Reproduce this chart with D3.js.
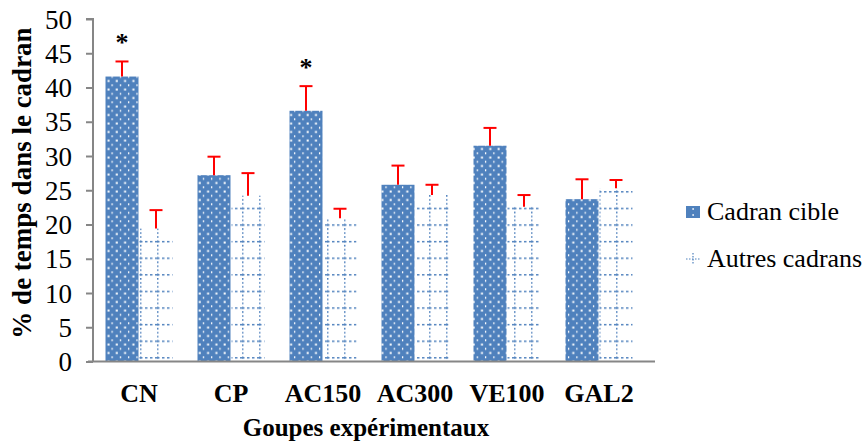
<!DOCTYPE html>
<html><head><meta charset="utf-8">
<script src="https://cdn.jsdelivr.net/npm/d3@7"></script>
<style>body{margin:0;background:#fff}svg{display:block}</style>
</head><body><svg id="c" width="866" height="445" font-family="Liberation Serif"></svg>
<script>
const categories = ["CN","CP","AC150","AC300","VE100","GAL2"];
const series = ["Cadran cible","Autres cadrans"];
const cible = [41.6, 27.2, 36.6, 25.8, 31.5, 23.7];
const cibleErr = [2.2, 2.7, 3.6, 2.8, 2.6, 2.9];
const autres = [19.4, 24.2, 20.9, 24.3, 22.6, 25.3];
const autresErr = [2.7, 3.3, 1.4, 1.5, 1.7, 1.2];
const stars = ["*","","*","","",""];
const yTicks = [0,5,10,15,20,25,30,35,40,45,50];

const FF = "Liberation Serif";
const svg = d3.select("#c");
const blue = "#4F81BD";
const defs = svg.append("defs");
const p1 = defs.append("pattern").attr("id","dots").attr("patternUnits","userSpaceOnUse")
  .attr("width",8.3).attr("height",8.5).attr("x",106).attr("y",2);
p1.append("rect").attr("width",8.3).attr("height",8.5).attr("fill",blue);
p1.append("rect").attr("x",1.5).attr("y",1.5).attr("width",2).attr("height",2).attr("fill","#fff");
p1.append("rect").attr("x",5.5).attr("y",5.8).attr("width",1.2).attr("height",2).attr("fill","#fff");
const p2 = defs.append("pattern").attr("id","grid").attr("patternUnits","userSpaceOnUse")
  .attr("width",17).attr("height",16.6).attr("x",4).attr("y",8.5);
p2.append("rect").attr("width",17).attr("height",16.6).attr("fill","#fff");
p2.append("line").attr("x1",0).attr("x2",17).attr("y1",0.75).attr("y2",0.75)
  .attr("stroke",blue).attr("stroke-width",1.5).attr("stroke-dasharray","2.5,2.5");
p2.append("line").attr("x1",0.75).attr("x2",0.75).attr("y1",0).attr("y2",16.6)
  .attr("stroke",blue).attr("stroke-width",1.5).attr("stroke-dasharray","1.5,2.5");

const x0 = 93, x1 = 645, yB = 361.5, yT = 19;
const x = d3.scaleBand().domain(categories).range([x0,x1]).paddingInner(0).paddingOuter(0);
const y = d3.scaleLinear().domain([0,50]).range([yB,yT]);
const barW = 33;
const data = categories.map((c,i)=>({c,i,v:[cible[i],autres[i]],e:[cibleErr[i],autresErr[i]],s:stars[i]}));

const g = svg.append("g");
data.forEach(d=>{
  const cx = x(d.c)+x.bandwidth()/2 - 0.5;
  [0,1].forEach(k=>{
    const bx = k===0 ? cx-barW : cx+1;
    g.append("rect").attr("x",bx).attr("y",y(d.v[k])).attr("width",barW)
      .attr("height",y(0)-y(d.v[k])).attr("fill",k===0?"url(#dots)":"url(#grid)");
    const mx = bx+barW/2, top = y(d.v[k]+d.e[k]);
    g.append("line").attr("x1",mx).attr("x2",mx).attr("y1",y(d.v[k])).attr("y2",top)
      .attr("stroke","#FF0000").attr("stroke-width",2);
    g.append("line").attr("x1",mx-6.5).attr("x2",mx+6.5).attr("y1",top).attr("y2",top)
      .attr("stroke","#FF0000").attr("stroke-width",2);
    if(k===0 && d.s){
      g.append("text").attr("x",mx).attr("y",top-10).attr("text-anchor","middle")
        .attr("font-family",FF).attr("font-size",26).attr("font-weight","bold").text(d.s);
    }
  });
});

// axes
const ya = svg.append("g").attr("transform",`translate(${x0},0)`)
  .call(d3.axisLeft(y).tickValues(yTicks).tickSize(7).tickPadding(14).tickFormat(d3.format("d")));
ya.attr("font-family",FF).attr("font-size",27);
ya.select(".domain").attr("stroke","#868686").attr("stroke-width",2).attr("d",`M-7,${yT}H0V${yB}`);
ya.selectAll(".tick line").attr("stroke","#868686").attr("stroke-width",2);
ya.selectAll(".tick text").attr("fill","#000").attr("font-family",FF).attr("font-size",27).attr("dy","0.34em");

const xa = svg.append("g").attr("transform",`translate(0,${yB})`)
  .call(d3.axisBottom(x).tickSize(0).tickPadding(0));
xa.attr("font-family",FF).attr("font-size",26);
xa.select(".domain").attr("stroke","#868686").attr("stroke-width",2).attr("d",`M${x0-5},0H${x1+10}`);
xa.selectAll(".tick text").attr("font-weight","bold").attr("fill","#000").attr("font-family",FF)
  .attr("font-size",26).attr("y",40).attr("dy","0");

svg.append("text").attr("x",366).attr("y",436).attr("text-anchor","middle").attr("font-family",FF)
  .attr("font-size",25).attr("font-weight","bold").text("Goupes expérimentaux");
svg.append("text").attr("transform","translate(31,183) rotate(-90)").attr("text-anchor","middle").attr("font-family",FF)
  .attr("font-size",27).attr("font-weight","bold").text("% de temps dans le cadran");

// legend
const lg = svg.append("g").attr("transform","translate(686,0)");
series.forEach((s,i)=>{
  const yy = 212 + i*47;
  lg.append("rect").attr("x",0).attr("y",yy-6).attr("width",14).attr("height",12)
    .attr("fill",i===0?blue:"none");
  if(i===1){
    lg.append("line").attr("x1",0).attr("x2",14).attr("y1",yy).attr("y2",yy).attr("stroke",blue).attr("stroke-width",1.2).attr("stroke-dasharray","1.5,1.5");
    lg.append("line").attr("x1",7).attr("x2",7).attr("y1",yy-6).attr("y2",yy+6).attr("stroke",blue).attr("stroke-width",1.2).attr("stroke-dasharray","1.5,1.5");
  } else {
    lg.append("rect").attr("x",6.5).attr("y",yy-4).attr("width",1.2).attr("height",2).attr("fill","#fff");
    lg.append("rect").attr("x",6.5).attr("y",yy+2).attr("width",1.2).attr("height",2).attr("fill","#fff");
  }
  lg.append("text").attr("x",21).attr("y",yy+8).attr("font-family",FF).attr("font-size",26).text(s);
});
</script></body></html>
